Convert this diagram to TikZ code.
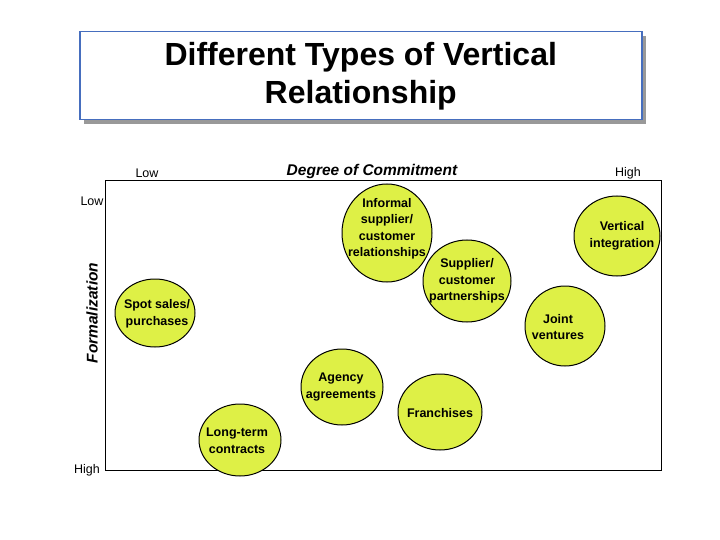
\documentclass[tikz,border=0pt]{standalone}
\usepackage{fontspec}
\setmainfont{Liberation Sans}
\usetikzlibrary{shapes.geometric}
\definecolor{lime}{RGB}{222,240,70}
\definecolor{tblue}{RGB}{70,110,190}
\begin{document}
\begin{tikzpicture}[x=1pt,y=-1pt,
  bub/.style={draw=black,line width=1pt,fill=lime},
  lbl/.style={font=\bfseries\fontsize{12.5}{16.5}\selectfont,align=center,inner sep=0pt},
  ax/.style={font=\fontsize{12.5}{14}\selectfont,inner sep=0pt}]
\useasboundingbox (0,0) rectangle (720,540);
\fill[gray!80] (84,36) rectangle (646,124);
\node[draw=tblue,line width=1.5pt,fill=white,minimum width=562pt,minimum height=88pt,anchor=north west,
  align=center,font=\bfseries\fontsize{32}{38}\selectfont] (title) at (79,31) {Different Types of Vertical\\Relationship};
\draw[line width=1pt] (105,181) rectangle (661,470);
\node[ax] (clow) at (147,173) {Low};
\node[ax] (chigh) at (628,173) {High};
\node[font=\bfseries\itshape\fontsize{15.5}{18}\selectfont,inner sep=0pt] (dc) at (372,171) {Degree of Commitment};
\node[ax] (flow) at (92,201) {Low};
\node[ax] (fhigh) at (87,470) {High};
\node[font=\bfseries\itshape\fontsize{15.5}{18}\selectfont,inner sep=0pt,rotate=90] (fm) at (92,313) {Formalization};
\foreach \n/\x/\y/\rx/\ry in {a/387/233/45/49, b/467/281/44/41, c/617/236/43/40, d/565/326/40/40,
  e/155/313/40/34, f/342/387/41/38, g/440/412/42/38, h/240/440/41/36}
  \draw[bub] (\x,\y) ellipse [x radius=\rx, y radius=\ry];
\node[lbl] (ta) at (387,229) {Informal\\supplier/\\customer\\relationships};
\node[lbl] (tb) at (467,281) {Supplier/\\customer\\partnerships};
\node[lbl] (tc) at (622,236) {Vertical\\integration};
\node[lbl] (td) at (558,327) {Joint\\ventures};
\node[lbl] (te) at (157,314) {Spot sales/\\purchases};
\node[lbl] (tf) at (341,387) {Agency\\agreements};
\node[lbl] (tg) at (440,413) {Franchises};
\node[lbl] (th) at (237,441) {Long-term\\contracts};
\end{tikzpicture}
\end{document}
